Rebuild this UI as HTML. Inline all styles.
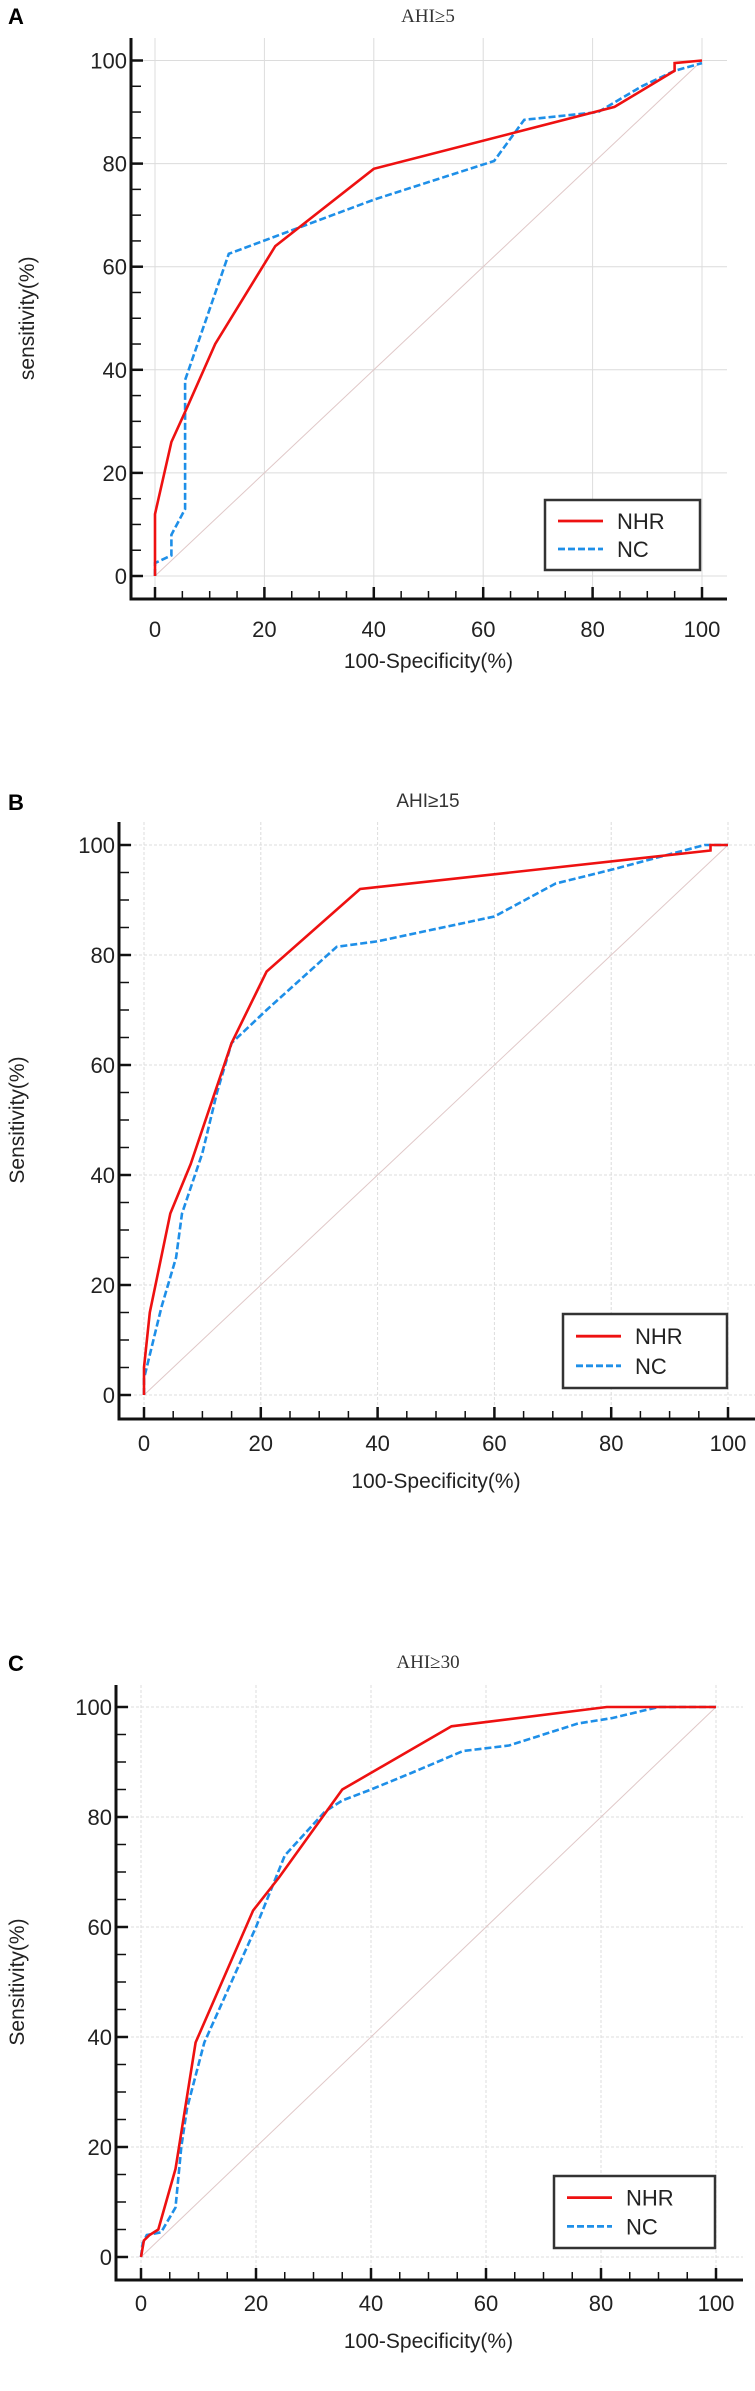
<!DOCTYPE html>
<html><head><meta charset="utf-8"><style>
html,body{margin:0;padding:0;background:#fff;}
svg{display:block;font-family:"Liberation Sans",Arial,sans-serif;}
</style></head><body>
<svg id="c" width="755" height="2391" viewBox="0 0 755 2391"></svg>
<script>
const ticks=[0,20,40,60,80,100];
const tickLabels=["0","20","40","60","80","100"];
const seriesNames=["NHR","NC"];
const aNhrX=[0,0,3,6,11,22,40,84,95,95,100];
const aNhrY=[0,12,26,33,45,64,79,91,98,99.5,100];
const aNcX=[0,0,3,3,5.5,5.5,13.5,40,62,67.5,81,89,95,100];
const aNcY=[0,2.5,4,8,13,38,62.5,73,80.5,88.5,90,95,98,99.5];
const bNhrX=[0,0,1,4.5,8,15,21,37,97,97,100];
const bNhrY=[0,5,15,33,42,64,77,92,99,100,100];
const bNcX=[0,0,3,5.5,6.5,10,12.5,15,17,21,33,40,60,70.5,80,96,100];
const bNcY=[0,3,16,25,33,44,55,64,66,70,81.5,82.5,87,93,95.5,100,100];
const cNhrX=[0,0.5,1.5,3,6,9.5,19.5,24,35,54,81,100];
const cNhrY=[0,3,4,5,16,39,63,69,85,96.5,100,100];
const cNcX=[0,0.3,1,3.5,6,7,8,11,17,20,25,32,35,40,47,56,64,76,82,90,100];
const cNcY=[0,2.5,4,4.5,9,20,27,39,53,60,73,81,83,85,88,92,93,97,98,100,100];

const svg=document.getElementById('c');
const NS="http://www.w3.org/2000/svg";
function mk(t,a,p){const e=document.createElementNS(NS,t);for(const k in a)e.setAttribute(k,a[k]);(p||svg).appendChild(e);return e;}

const panels=[
 {letter:"A",title:"AHI\u22655",yTitle:"sensitivity(%)",x0:155,x1:702,y0:576,y1:60.5,ax:131,ay:599,atop:38,aright:727,titleY:22,letterY:24,xlY:637,xtY:668,serifTitle:true,dashGrid:false,leg:[545,500,155,70],nx:aNhrX,ny:aNhrY,cx:aNcX,cy:aNcY},
 {letter:"B",title:"AHI\u226515",yTitle:"Sensitivity(%)",x0:144,x1:728,y0:1395,y1:845,ax:119,ay:1419,atop:822,aright:755,titleY:807,letterY:810,xlY:1451,xtY:1488,serifTitle:false,dashGrid:true,leg:[563,1314,164,74],nx:bNhrX,ny:bNhrY,cx:bNcX,cy:bNcY},
 {letter:"C",title:"AHI\u226530",yTitle:"Sensitivity(%)",x0:141,x1:716,y0:2257,y1:1707,ax:116,ay:2280,atop:1685,aright:743,titleY:1668,letterY:1671,xlY:2311,xtY:2348,serifTitle:true,dashGrid:true,leg:[554,2176,161,72],nx:cNhrX,ny:cNhrY,cx:cNcX,cy:cNcY}
];

panels.forEach((p,pi)=>{
 const g=mk('g',{});
 
 
 const X=v=>p.x0+(p.x1-p.x0)*v/100, Y=v=>p.y0+(p.y1-p.y0)*v/100;
 const L=mk('text',{x:8,y:p.letterY,'font-size':22,'font-weight':'bold',fill:'#000'},g);L.textContent=p.letter;
 
 const T=mk('text',{x:428,y:p.titleY,'font-size':19,'text-anchor':'middle',fill:'#333','font-family':p.serifTitle?'"Liberation Serif",serif':'"Liberation Sans",sans-serif'},g);T.textContent=p.title;
 
 ticks.forEach(t=>{
  const gx=mk('line',{x1:X(t),x2:X(t),y1:p.atop,y2:p.ay,stroke:'#dcdcdc','stroke-width':1,'stroke-dasharray':p.dashGrid?'3,2':'none'},g);
  
  const gy=mk('line',{x1:p.ax,x2:p.aright,y1:Y(t),y2:Y(t),stroke:'#dcdcdc','stroke-width':1,'stroke-dasharray':p.dashGrid?'3,2':'none'},g);
  
 });
 const d=mk('line',{x1:X(0),y1:Y(0),x2:X(100),y2:Y(100),stroke:'#e0c8c8','stroke-width':1},g);
 
 const ya=mk('line',{x1:p.ax,x2:p.ax,y1:p.atop,y2:p.ay+1.5,stroke:'#111','stroke-width':3},g);
 
 const xa=mk('line',{x1:p.ax-1.5,x2:p.aright,y1:p.ay,y2:p.ay,stroke:'#111','stroke-width':3},g);
 
 for(let v=0;v<=100;v+=5){
  const maj=v%20===0;
  const tk=mk('line',{x1:p.ax,x2:p.ax+(maj?12:10),y1:Y(v),y2:Y(v),stroke:'#111','stroke-width':maj?2.5:1.5},g);
  
  const tx=mk('line',{x1:X(v),x2:X(v),y1:p.ay,y2:p.ay-(maj?12:8),stroke:'#111','stroke-width':maj?2.5:1.5},g);
  
 }
 ticks.forEach((t,i)=>{
  const yl=mk('text',{x:p.ax-4,y:Y(t)+8,'font-size':22,'text-anchor':'end',fill:'#222'},g);yl.textContent=tickLabels[i];
  
  const xl=mk('text',{x:X(t),y:p.xlY,'font-size':22,'text-anchor':'middle',fill:'#222'},g);xl.textContent=tickLabels[i];
  
 });
 const xt=mk('text',{x:(p.x0+p.x1)/2,y:p.xtY,'font-size':21,'text-anchor':'middle',fill:'#222'},g);xt.textContent="100-Specificity(%)";
 
 const ym=(p.y0+p.y1)/2;
 const yt=mk('text',{x:0,y:0,'font-size':21,'text-anchor':'middle',fill:'#222',transform:`translate(${pi==0?34:24},${ym}) rotate(-90)`},g);yt.textContent=p.yTitle;
 
 const pts=(xs,ys)=>xs.map((x,i)=>X(x).toFixed(1)+','+Y(ys[i]).toFixed(1)).join(' ');
 const nc=mk('polyline',{points:pts(p.cx,p.cy),fill:'none',stroke:'#1e8fe8','stroke-width':2.6,'stroke-dasharray':'7,3'},g);
 
 const nh=mk('polyline',{points:pts(p.nx,p.ny),fill:'none',stroke:'#ee1111','stroke-width':2.6},g);
 
 const [lx,ly,lw,lh]=p.leg;
 const lb=mk('rect',{x:lx,y:ly,width:lw,height:lh,fill:'#fff',stroke:'#333','stroke-width':2.5},g);
 
 [[ '#ee1111','none'],['#1e8fe8','7,3']].forEach((s,i)=>{
  const yy=ly+lh*(i==0?0.3:0.7);
  const ll=mk('line',{x1:lx+13,x2:lx+58,y1:yy,y2:yy,stroke:s[0],'stroke-width':2.8,'stroke-dasharray':s[1]},g);
  
  const lt=mk('text',{x:lx+72,y:yy+8,'font-size':22,fill:'#222'},g);lt.textContent=seriesNames[i];
  
 });
});
</script>
</body></html>
